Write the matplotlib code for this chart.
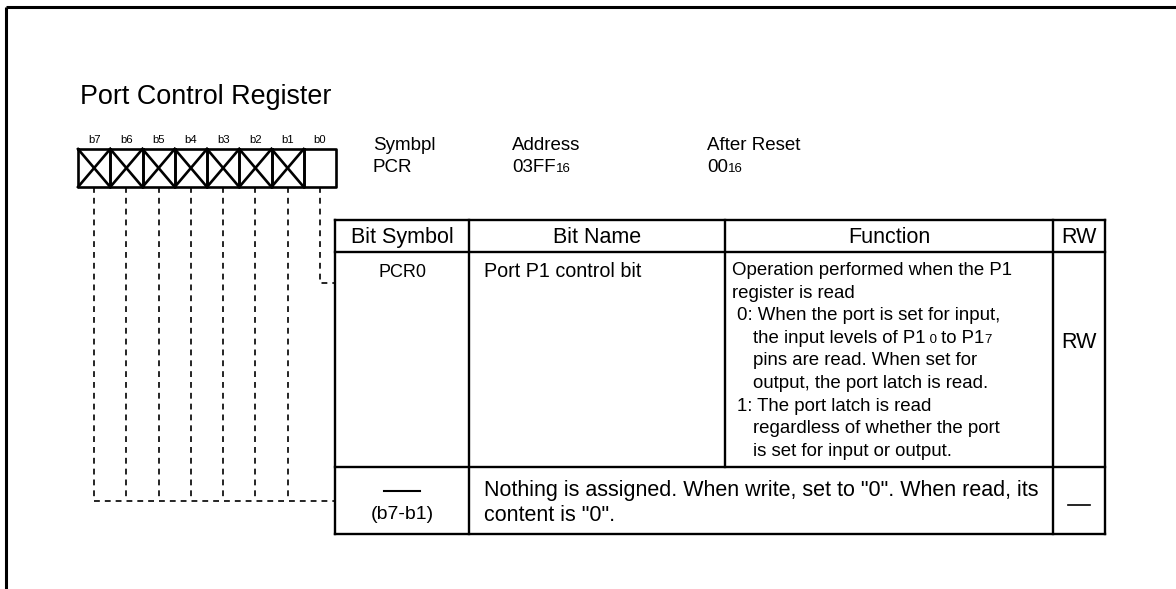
import matplotlib.pyplot as plt

W, H = 1176, 589
FONT = "Liberation Sans"

# ---- content -------------------------------------------------------------
title = "Port Control Register"
bit_labels = ["b7", "b6", "b5", "b4", "b3", "b2", "b1", "b0"]
crossed = [True, True, True, True, True, True, True, False]   # unused bits

info_heads = ["Symbpl", "Address", "After Reset"]
info_values = [
    [("PCR", "big")],
    [("03FF", "big"), ("16", "sub")],
    [("00", "big"), ("16", "sub")],
]

col_heads = ["Bit Symbol", "Bit Name", "Function", "RW"]

row1_symbol = "PCR0"
row1_name = "Port P1 control bit"
row1_rw = "RW"
# (indent level, [(text, size key), ...])
row1_function = [
    (0, [("Operation performed when the P1", "fn")]),
    (0, [("register is read", "fn")]),
    (1, [("0: When the port is set for input,", "fn")]),
    (2, [("the input levels of P1", "fn"), (" 0", "fsub"), (" to P1", "fn"), ("7", "fsub")]),
    (2, [("pins are read. When set for", "fn")]),
    (2, [("output, the port latch is read.", "fn")]),
    (1, [("1: The port latch is read", "fn")]),
    (2, [("regardless of whether the port", "fn")]),
    (2, [("is set for input or output.", "fn")]),
]

row2_symbol = "(b7-b1)"
row2_text = ['Nothing is assigned. When write, set to "0". When read, its',
             'content is "0".']

sizes = {"big": 13.5, "sub": 9.5, "fn": 13.4, "fsub": 9.5}

# ---- layout --------------------------------------------------------------
reg_x0, reg_y0, cell_w, cell_h = 78, 149, 32.25, 38
col_x = [335, 469, 725, 1053, 1105]
row_y = [220, 252, 467, 534]
info_x = [373, 512, 707]

fig = plt.figure(figsize=(W / 100, H / 100), dpi=100)
ax = fig.add_axes([0, 0, 1, 1])
ax.set_xlim(0, W)
ax.set_ylim(H, 0)
ax.axis("off")
renderer = fig.canvas.get_renderer()

LW = 1.7
DASH = dict(color="black", lw=1.2, linestyle=(0, (3.5, 3)))


def runs(x, y, parts):
    for s, key in parts:
        t = ax.text(x, y, s, fontsize=sizes[key], family=FONT,
                    ha="left", va="baseline")
        x += t.get_window_extent(renderer=renderer).width


# outer frame (open to the right and bottom)
ax.plot([6, W], [7, 7], color="black", lw=2.2, solid_capstyle="butt")
ax.plot([6, 6], [7, H], color="black", lw=2.2, solid_capstyle="butt")

ax.text(80, 104, title, fontsize=19.4, family=FONT, va="baseline")

# register cells
for i, (lab, cross) in enumerate(zip(bit_labels, crossed)):
    x0 = reg_x0 + i * cell_w
    x1 = x0 + cell_w
    y0, y1 = reg_y0, reg_y0 + cell_h
    ax.plot([x0, x1, x1, x0, x0], [y0, y0, y1, y1, y0], color="black", lw=1.9)
    if cross:
        ax.plot([x0, x1], [y0, y1], color="black", lw=1.9)
        ax.plot([x0, x1], [y1, y0], color="black", lw=1.9)
    ax.text((x0 + x1) / 2, 143, lab, fontsize=8.2, family=FONT,
            ha="center", va="baseline")

# leader lines
centers = [reg_x0 + (i + 0.5) * cell_w for i in range(len(bit_labels))]
low_y = (row_y[2] + row_y[3]) / 2
for cx, cross in zip(centers, crossed):
    if cross:
        ax.plot([cx, cx], [reg_y0 + cell_h, low_y], **DASH)
    else:
        ax.plot([cx, cx, col_x[0]], [reg_y0 + cell_h, 283, 283], **DASH)
ax.plot([centers[0], col_x[0]], [low_y, low_y], **DASH)

# symbol / address / reset block
for x, head, val in zip(info_x, info_heads, info_values):
    ax.text(x, 150, head, fontsize=sizes["big"], family=FONT, va="baseline")
    runs(x, 172, val)

# table grid
for y in row_y:
    ax.plot([col_x[0], col_x[-1]], [y, y], color="black", lw=LW)
for x in [col_x[0], col_x[1], col_x[3], col_x[4]]:
    ax.plot([x, x], [row_y[0], row_y[-1]], color="black", lw=LW)
ax.plot([col_x[2], col_x[2]], [row_y[0], row_y[2]], color="black", lw=LW)

# header
for i, head in enumerate(col_heads):
    cx = (col_x[i] + col_x[i + 1]) / 2
    ax.text(cx, 243, head, fontsize=15.5, family=FONT, ha="center", va="baseline")

# row 1
sym_cx = (col_x[0] + col_x[1]) / 2
rw_cx = (col_x[3] + col_x[4]) / 2
ax.text(sym_cx, 277, row1_symbol, fontsize=13, family=FONT, ha="center", va="baseline")
ax.text(col_x[1] + 15, 277, row1_name, fontsize=14.2, family=FONT, va="baseline")
indents = [7, 12, 28]
line_h = 22.6
for k, (lvl, parts) in enumerate(row1_function):
    runs(col_x[2] + indents[lvl], 275 + k * line_h, parts)
ax.text(rw_cx, 348, row1_rw, fontsize=15.5, family=FONT, ha="center", va="baseline")

# row 2
ax.plot([sym_cx - 18, sym_cx + 18], [491, 491], color="black", lw=1.5)
ax.text(sym_cx, 519, row2_symbol, fontsize=14, family=FONT, ha="center", va="baseline")
for k, line in enumerate(row2_text):
    ax.text(col_x[1] + 15, 496 + k * 25, line, fontsize=15.5, family=FONT, va="baseline")
ax.plot([rw_cx - 11, rw_cx + 11], [505, 505], color="black", lw=1.2)

fig.savefig("out.png", dpi=100, facecolor="white")
